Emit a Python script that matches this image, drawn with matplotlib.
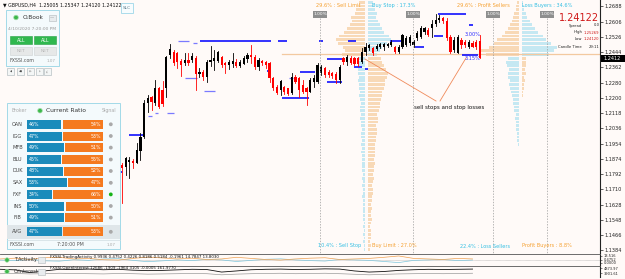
import numpy as np
import matplotlib
matplotlib.use("Agg")
import matplotlib.pyplot as plt
from matplotlib.patches import Rectangle, Circle
import matplotlib.transforms as mtransforms

plt.rcParams['font.family'] = ['DejaVu Sans']

# ---------------- data ----------------
header_text = "\u25BC GBPUSD,H4  1.25005 1.25347 1.24120 1.24122"

candle_open = [1.1840, 1.1829, 1.1856, 1.1861, 1.1851, 1.1915, 1.1990, 1.2171, 1.2204, 1.2171,
               1.2252, 1.2241, 1.2252, 1.2428, 1.2444, 1.2439, 1.2396, 1.2385, 1.2401, 1.2401,
               1.2412, 1.2326, 1.2337, 1.2310, 1.2391, 1.2396, 1.2396, 1.2417, 1.2385, 1.2375,
               1.2380, 1.2391, 1.2369, 1.2380, 1.2407, 1.2428, 1.2417, 1.2364, 1.2396, 1.2391,
               1.2385, 1.2305, 1.2257, 1.2241, 1.2257, 1.2252, 1.2225, 1.2310, 1.2305, 1.2268,
               1.2252, 1.2230, 1.2284, 1.2284, 1.2332, 1.2359, 1.2337, 1.2332, 1.2326, 1.2294,
               1.2412, 1.2391, 1.2412, 1.2412, 1.2412, 1.2391, 1.2444, 1.2465, 1.2465, 1.2460,
               1.2471, 1.2471, 1.2476, 1.2481, 1.2471, 1.2444, 1.2471, 1.2481, 1.2492, 1.2481,
               1.2519, 1.2524, 1.2551, 1.2562, 1.2572, 1.2594, 1.2615, 1.2626, 1.2610, 1.2524,
               1.2455, 1.2439, 1.2508, 1.2498, 1.2471, 1.2492, 1.2498, 1.25005]
candle_high = [1.1851, 1.1883, 1.1883, 1.1872, 1.1958, 1.2011, 1.2187, 1.2214, 1.2209, 1.2294,
               1.2257, 1.2289, 1.2423, 1.2487, 1.2455, 1.2444, 1.2407, 1.2439, 1.2439, 1.2439,
               1.2423, 1.2359, 1.2348, 1.2401, 1.2476, 1.2455, 1.2449, 1.2423, 1.2391, 1.2401,
               1.2439, 1.2407, 1.2401, 1.2423, 1.2439, 1.2481, 1.2428, 1.2412, 1.2401, 1.2396,
               1.2391, 1.2310, 1.2268, 1.2294, 1.2262, 1.2252, 1.2332, 1.2321, 1.2310, 1.2294,
               1.2257, 1.2305, 1.2321, 1.2385, 1.2375, 1.2364, 1.2348, 1.2337, 1.2337, 1.2375,
               1.2417, 1.2428, 1.2423, 1.2417, 1.2417, 1.2465, 1.2492, 1.2487, 1.2471, 1.2487,
               1.2492, 1.2492, 1.2492, 1.2508, 1.2476, 1.2481, 1.2540, 1.2530, 1.2535, 1.2508,
               1.2556, 1.2583, 1.2578, 1.2572, 1.2615, 1.2647, 1.2642, 1.2631, 1.2626, 1.2535,
               1.2524, 1.2535, 1.2519, 1.2508, 1.2508, 1.2503, 1.2508, 1.25347]
candle_low = [1.1637, 1.1787, 1.1771, 1.1824, 1.1851, 1.1867, 1.1984, 1.2123, 1.2134, 1.2161,
              1.2145, 1.2155, 1.2204, 1.2412, 1.2375, 1.2359, 1.2316, 1.2375, 1.2375, 1.2391,
              1.2241, 1.2310, 1.2294, 1.2284, 1.2369, 1.2348, 1.2391, 1.2364, 1.2332, 1.2353,
              1.2364, 1.2364, 1.2364, 1.2380, 1.2391, 1.2385, 1.2353, 1.2348, 1.2375, 1.2359,
              1.2284, 1.2241, 1.2220, 1.2214, 1.2220, 1.2214, 1.2220, 1.2278, 1.2204, 1.2225,
              1.2161, 1.2230, 1.2257, 1.2278, 1.2321, 1.2310, 1.2310, 1.2305, 1.2278, 1.2278,
              1.2380, 1.2375, 1.2380, 1.2375, 1.2369, 1.2385, 1.2428, 1.2455, 1.2428, 1.2455,
              1.2465, 1.2455, 1.2471, 1.2476, 1.2439, 1.2439, 1.2465, 1.2476, 1.2481, 1.2471,
              1.2508, 1.2519, 1.2540, 1.2530, 1.2524, 1.2583, 1.2604, 1.2599, 1.2508, 1.2439,
              1.2444, 1.2439, 1.2465, 1.2471, 1.2465, 1.2471, 1.2460, 1.24120]
candle_close = [1.1824, 1.1877, 1.1867, 1.1851, 1.1920, 1.1990, 1.2171, 1.2198, 1.2177, 1.2252,
                1.2150, 1.2166, 1.2417, 1.2460, 1.2385, 1.2391, 1.2375, 1.2401, 1.2385, 1.2423,
                1.2326, 1.2337, 1.2310, 1.2391, 1.2401, 1.2412, 1.2444, 1.2375, 1.2375, 1.2391,
                1.2396, 1.2369, 1.2391, 1.2412, 1.2428, 1.2417, 1.2364, 1.2401, 1.2385, 1.2375,
                1.2305, 1.2252, 1.2225, 1.2289, 1.2230, 1.2220, 1.2310, 1.2284, 1.2241, 1.2230,
                1.2230, 1.2294, 1.2305, 1.2375, 1.2364, 1.2321, 1.2321, 1.2316, 1.2294, 1.2364,
                1.2391, 1.2417, 1.2385, 1.2380, 1.2380, 1.2444, 1.2471, 1.2481, 1.2439, 1.2476,
                1.2487, 1.2487, 1.2487, 1.2498, 1.2444, 1.2471, 1.2535, 1.2519, 1.2524, 1.2498,
                1.2546, 1.2572, 1.2572, 1.2535, 1.2594, 1.2615, 1.2626, 1.2610, 1.2519, 1.2444,
                1.2508, 1.2524, 1.2481, 1.2481, 1.2498, 1.2471, 1.2471, 1.24122]

price_ticks = [1.2688, 1.2606, 1.2526, 1.2444, 1.2362, 1.2280, 1.2200, 1.2118, 1.2036,
               1.1954, 1.1874, 1.1792, 1.1710, 1.1628, 1.1548, 1.1466, 1.1384]
last_price = 1.24122

# blue stop-loss level segments: price, first bar, last bar, heavy?
stop_price = [1.2503, 1.2492, 1.2503, 1.2503, 1.2305, 1.2236, 1.2343, 1.2198, 1.2305, 1.2118,
              1.2118, 1.2102, 1.2000, 1.1803, 1.2503, 1.2503, 1.2503, 1.2471, 1.2530, 1.2588,
              1.2428, 1.2407, 1.2364, 1.2353, 1.2337, 1.2284, 1.2647]
stop_start = [15.2, 19.2, 21.1, 42.3, 17.1, 22.2, 39.3, 43.4, 45.3, 8.9,
              12.2, 7.0, 1.9, -0.8, 53.4, 61.2, 72.6, 79.4, 84.6, 94.0,
              92.1, 55.6, 62.9, 65.9, 48.2, 55.6, 85.6]
stop_end = [18.2, 20.3, 40.4, 44.7, 20.3, 25.2, 40.4, 50.7, 46.3, 9.8,
            14.1, 8.1, 5.7, 0.0, 54.5, 63.4, 75.9, 81.8, 87.0, 95.1,
            96.5, 59.6, 65.0, 66.7, 52.3, 59.6, 93.2]
stop_heavy = [0, 0, 1, 1, 0, 0, 1, 1, 0, 0,
              0, 0, 1, 1, 1, 1, 1, 1, 1, 1,
              1, 1, 1, 1, 1, 1, 1]

# order book / position book histograms (percent per 0.002 price bin, from 1.138 upward)
hist_bottom = 1.138
hist_step = 0.002
ob_left = [0.03, 0.02, 0.04, 0.03, 0.04, 0.03, 0.05, 0.03, 0.04, 0.04,
           0.04, 0.05, 0.04, 0.05, 0.06, 0.04, 0.05, 0.06, 0.05, 0.06,
           0.05, 0.07, 0.06, 0.06, 0.07, 0.06, 0.08, 0.07, 0.08, 0.07,
           0.08, 0.09, 0.07, 0.09, 0.08, 0.10, 0.09, 0.10, 0.11, 0.09,
           0.11, 0.12, 0.10, 0.13, 0.12, 0.14, 0.13, 0.15, 0.14, 0.16, 0.18, 0.15,
           0.50, 0.42, 0.48, 0.58, 0.62, 0.55, 0.45, 0.38, 0.32, 0.28, 0.30, 0.22, 0.20, 0.16, 0.12]
ob_right = [0.05, 0.06, 0.05, 0.06, 0.07, 0.06, 0.05, 0.07, 0.08, 0.06,
            0.07, 0.08, 0.07, 0.09, 0.08, 0.10, 0.11, 0.09, 0.10, 0.12,
            0.11, 0.13, 0.12, 0.14, 0.12, 0.15, 0.14, 0.16, 0.15, 0.17,
            0.17, 0.19, 0.20, 0.18, 0.21, 0.22, 0.20, 0.24, 0.26, 0.25,
            0.28, 0.31, 0.30, 0.34, 0.37, 0.36, 0.40, 0.43, 0.38, 0.34, 0.31, 0.28,
            0.20, 0.25, 0.30, 0.40, 0.50, 0.45, 0.35, 0.30, 0.25, 0.22, 0.18, 0.20, 0.15, 0.12, 0.10]
pb_left = [0.00, 0.00, 0.00, 0.00, 0.00, 0.00, 0.00, 0.00, 0.00, 0.00,
           0.00, 0.00, 0.00, 0.00, 0.00, 0.00, 0.00, 0.00, 0.00, 0.00,
           0.00, 0.00, 0.00, 0.00, 0.00, 0.00, 0.00, 0.00, 0.03, 0.04,
           0.05, 0.06, 0.08, 0.09, 0.10, 0.12, 0.11, 0.15, 0.18, 0.20,
           0.22, 0.25, 0.28, 0.30, 0.35, 0.32, 0.38, 0.40, 0.35, 0.42, 0.45, 0.40,
           1.20, 1.40, 1.10, 0.90, 0.80, 0.60, 0.50, 0.40, 0.30, 0.25, 0.20, 0.15, 0.10, 0.08, 0.05]
pb_right = [0.00, 0.00, 0.00, 0.00, 0.00, 0.00, 0.00, 0.00, 0.00, 0.00,
            0.00, 0.00, 0.00, 0.00, 0.00, 0.00, 0.00, 0.00, 0.00, 0.00,
            0.00, 0.00, 0.00, 0.00, 0.00, 0.00, 0.00, 0.00, 0.00, 0.00,
            0.00, 0.00, 0.00, 0.00, 0.00, 0.00, 0.00, 0.00, 0.00, 0.00,
            0.03, 0.05, 0.06, 0.08, 0.10, 0.12, 0.11, 0.15, 0.13, 0.18, 0.16, 0.15,
            1.00, 1.20, 1.30, 1.10, 0.90, 0.80, 0.60, 0.50, 0.40, 0.30, 0.20, 0.15, 0.10, 0.08, 0.05]

ob_top_labels = ["29.6% : Sell Limit", "Buy Stop : 17.3%"]
ob_bottom_labels = ["10.4% : Sell Stop", "Buy Limit : 27.0%"]
pb_top_labels = ["29.6% : Profit Sellers", "Loss Buyers : 34.6%"]
pb_bottom_labels = ["22.4% : Loss Sellers", "Profit Buyers : 8.8%"]

brokers = ["OAN", "IGG", "MFB", "BLU", "DUK", "SAX", "FXF", "INS", "FIB"]
long_pct = [46, 47, 49, 45, 48, 53, 34, 50, 49]
short_pct = [54, 53, 51, 55, 52, 47, 66, 50, 51]
signal_active = [0, 0, 0, 0, 0, 0, 1, 0, 0]
avg_long, avg_short = 47, 53

info_labels = ["Spread", "High", "Low", "Candle Time"]
info_values = ["0.0", "1.25269", "1.24120", "29:11"]
info_value_red = [0, 1, 1, 0]

# sub-window indicators (sampled every 4 bars from bar -33)
ta_orange = [0.55, 0.62, 0.50, 0.66, 0.70, 0.55, 0.60, 0.48, 0.45, 0.60, 0.72, 0.64, 0.55,
             0.62, 0.50, 0.55, 0.70, 0.60, 0.50, 0.45, 0.55, 0.62, 0.66, 0.50, 0.55, 0.60,
             0.70, 0.82, 0.60, 0.55, 0.50, 0.60, 0.55]
ta_blue = [0.45, 0.40, 0.52, 0.38, 0.35, 0.48, 0.42, 0.55, 0.58, 0.42, 0.30, 0.38, 0.46,
           0.40, 0.52, 0.46, 0.32, 0.42, 0.52, 0.56, 0.46, 0.40, 0.36, 0.50, 0.46, 0.42,
           0.32, 0.22, 0.42, 0.46, 0.50, 0.40, 0.45]
oi_black = [0.70, 0.65, 0.40, 0.55, 0.70, 0.68, 0.72, 0.66, 0.70, 0.62, 0.58, 0.60, 0.65,
            0.70, 0.68, 0.45, 0.55, 0.66, 0.70, 0.72, 0.68, 0.70, 0.74, 0.72, 0.55, 0.45,
            0.50, 0.60, 0.66, 0.70, 0.68, 0.70, 0.72]
oi_gray = [0.30, 0.32, 0.28, 0.30, 0.34, 0.32, 0.30, 0.28, 0.32, 0.30, 0.26, 0.28, 0.30,
           0.32, 0.30, 0.20, 0.26, 0.30, 0.32, 0.34, 0.30, 0.32, 0.34, 0.30, 0.25, 0.20,
           0.24, 0.28, 0.30, 0.32, 0.30, 0.32, 0.34]

# ---------------- layout constants ----------------
W, H = 625, 279
BG = '#fffaf8'
BAR_PX = 3.69          # pixel distance between bars
BAR0_PX = 122.0        # pixel x of the first visible bar
PLOT_R = 600.0         # right edge of plotting area
MAIN_BOTTOM = 253.0
Y_TOP, Y_BOT = 1.2722, 1.1370
OB_CENTER, OB_SCALE = 366.5, 46.5
PB_CENTER, PB_SCALE = 520.0, 27.0
ORANGE_TXT = '#f5a030'
CYAN_TXT = '#35bfe3'
HIST_ORANGE = '#f8d6b0'
HIST_BLUE = '#bfe6f2'

fig = plt.figure(figsize=(W / 100, H / 100), dpi=100)
fig.patch.set_facecolor(BG)

x_lo = -BAR0_PX / BAR_PX
x_hi = (PLOT_R - BAR0_PX) / BAR_PX

ax = fig.add_axes([0, (H - MAIN_BOTTOM) / H, PLOT_R / W, MAIN_BOTTOM / H])
ax.set_facecolor(BG)
ax.set_xlim(x_lo, x_hi)
ax.set_ylim(Y_BOT, Y_TOP)
for s in ['top', 'left', 'bottom']:
    ax.spines[s].set_visible(False)
ax.spines['right'].set_color('#222222')
ax.spines['right'].set_linewidth(0.8)
ax.yaxis.tick_right()
ax.set_yticks(price_ticks)
ax.set_yticklabels([f"{v:.4f}" for v in price_ticks])
ax.tick_params(axis='y', labelsize=3.6, length=2, width=0.5, pad=1.5, colors='#222222')
ax.set_xticks([])

# overlay axes in pixel coordinates
ov = fig.add_axes([0, 0, 1, 1], zorder=10)
ov.set_xlim(0, W)
ov.set_ylim(H, 0)
ov.axis('off')
ov.patch.set_alpha(0)

blend = mtransforms.blended_transform_factory(ov.transData, ax.transData)

# ---- histograms ----
def draw_hist(vals, center, scale, direction, split_idx, col_low, col_high):
    for k, v in enumerate(vals):
        if v <= 0:
            continue
        y0 = hist_bottom + k * hist_step
        col = col_low if k < split_idx else col_high
        w = v * scale
        x0 = center - w if direction < 0 else center
        ax.add_patch(Rectangle((x0, y0 + hist_step * 0.12), w, hist_step * 0.76,
                               transform=blend, facecolor=col, edgecolor='none',
                               alpha=0.9, zorder=1))

split = 52
draw_hist(ob_left, OB_CENTER - 1.5, OB_SCALE, -1, split, HIST_BLUE, HIST_ORANGE)
draw_hist(ob_right, OB_CENTER + 1.5, OB_SCALE, 1, split, HIST_ORANGE, HIST_BLUE)
draw_hist(pb_left, PB_CENTER - 1.5, PB_SCALE, -1, split, HIST_BLUE, HIST_ORANGE)
draw_hist(pb_right, PB_CENTER + 1.5, PB_SCALE, 1, split, HIST_ORANGE, HIST_BLUE)

# current order book price line
ax.plot([282, PLOT_R], [1.2433, 1.2433], transform=blend, color='#f3c9a0', lw=0.9, zorder=1.5)

# dashed 1% lines
for xp in [OB_CENTER - OB_SCALE, OB_CENTER + OB_SCALE, PB_CENTER - PB_SCALE, PB_CENTER + PB_SCALE]:
    ov.plot([xp, xp], [18, MAIN_BOTTOM], color='#9a9a9a', lw=0.5, ls=(0, (2, 2)), zorder=1)
    ov.add_patch(Rectangle((xp - 7, 10.5), 14, 7, facecolor='#8e8e8e', edgecolor='none'))
    ov.text(xp, 14.2, "1.00%", fontsize=3.2, color='white', ha='center', va='center')

# ---- stop level segments ----
for p, s0, s1, hv in zip(stop_price, stop_start, stop_end, stop_heavy):
    ax.plot([s0, s1], [p, p], color='#1010ff' if hv else '#7a7aff', lw=1.2 if hv else 0.9,
            solid_capstyle='butt', zorder=2)

# ---- candles ----
for i, (o, h, l, c) in enumerate(zip(candle_open, candle_high, candle_low, candle_close)):
    col = '#000000' if c >= o else '#ff0000'
    ax.plot([i, i], [l, h], color=col, lw=0.6, zorder=3)
    ax.add_patch(Rectangle((i - 0.3, min(o, c)), 0.6, max(abs(c - o), 0.0003),
                           facecolor=col, edgecolor='none', zorder=3))

# current price box on axis
ov.add_patch(Rectangle((601, 55), 24, 6.5, facecolor='black', edgecolor='none', zorder=11))
ov.text(603, 58.3, f"{last_price:.4f}", fontsize=3.6, color='white', va='center', ha='left', zorder=12)

# ---- labels of books ----
ov.text(360, 5.5, ob_top_labels[0], fontsize=3.6, color=ORANGE_TXT, ha='right', va='center')
ov.text(372, 5.5, ob_top_labels[1], fontsize=3.6, color=CYAN_TXT, ha='left', va='center')
ov.text(510, 5.5, pb_top_labels[0], fontsize=3.6, color=ORANGE_TXT, ha='right', va='center')
ov.text(522, 5.5, pb_top_labels[1], fontsize=3.6, color=CYAN_TXT, ha='left', va='center')
ov.text(361, 246, ob_bottom_labels[0], fontsize=3.6, color=CYAN_TXT, ha='right', va='center')
ov.text(372, 246, ob_bottom_labels[1], fontsize=3.6, color=ORANGE_TXT, ha='left', va='center')
ov.text(510, 246, pb_bottom_labels[0], fontsize=3.6, color=CYAN_TXT, ha='right', va='center')
ov.text(522, 246, pb_bottom_labels[1], fontsize=3.6, color=ORANGE_TXT, ha='left', va='center')

ov.text(465, 35, "3.00%", fontsize=3.6, color='#2a2aff', ha='left', va='center')
ov.text(465, 58, "3.15%", fontsize=3.6, color='#2a2aff', ha='left', va='center')

# annotation
ov.plot([365, 436], [59, 101], color='#f08a5a', lw=0.6)
ov.plot([440, 466], [101, 58], color='#f08a5a', lw=0.6)
ov.text(414, 107, "sell stops and stop losses", fontsize=4, color='#111111', ha='left', va='center')

# ---- info block ----
ov.text(599, 18, "1.24122", fontsize=7.0, color='#d01818', ha='right', va='center')
for k, (lab, val, red) in enumerate(zip(info_labels, info_values, info_value_red)):
    yy = 25.5 + 7 * k
    ov.text(582, yy, lab, fontsize=2.7, color='#222222', ha='right', va='center')
    ov.text(599.5, yy, val, fontsize=2.7, color='#d01818' if red else '#222222',
            ha='right', va='center')

# ---- header ----
ov.text(3, 5, header_text, fontsize=3.4, color='#111111', ha='left', va='center')
ov.add_patch(Rectangle((121, 3), 12, 10, facecolor='#f7fcfe', edgecolor='#9fd7e8', lw=0.6))
ov.text(127, 8, "SLC", fontsize=3.2, color='#5a7a8a', ha='center', va='center')

# ---- O.Book panel ----
PANEL_BG = '#f4fafc'
PANEL_EDGE = '#a3d9e8'
ov.add_patch(Rectangle((6, 10), 53, 56, facecolor=PANEL_BG, edgecolor=PANEL_EDGE, lw=0.7))
ov.add_patch(Circle((16, 17.5), 2.3, facecolor='#3cb84a', edgecolor='#a8dcae', lw=0.5))
ov.text(23, 17.5, "O.Book", fontsize=4.2, color='#333333', ha='left', va='center')
ov.add_patch(Rectangle((48.5, 14.5), 7, 6, facecolor='#e8ecee', edgecolor='#b0b8bc', lw=0.4))
ov.text(52, 17.3, "\u2014", fontsize=3, color='#777777', ha='center', va='center')
ov.text(32.5, 29, "4/10/2020 7:20:00 PM", fontsize=3.2, color='#9a9a9a', ha='center', va='center')
for bx in (10, 34):
    ov.add_patch(Rectangle((bx, 36), 22, 8, facecolor='#2fb84e', edgecolor='#28a044', lw=0.4))
    ov.text(bx + 11, 40, "ALL", fontsize=3.4, color='white', ha='center', va='center')
    ov.add_patch(Rectangle((bx, 47), 22, 7.5, facecolor='#e6e8e8', edgecolor='#cfd3d3', lw=0.4))
    ov.text(bx + 11, 50.8, "NET", fontsize=3.2, color='#b5b5b5', ha='center', va='center')
ov.text(10, 61, "FXSSI.com", fontsize=3.4, color='#555555', ha='left', va='center')
ov.text(56, 61, "1.07", fontsize=3.0, color='#aaaaaa', ha='right', va='center')
for bx, sym in zip([7, 17, 27, 36, 44], ["\u25C0", "\u25C0\u25C0", "\u25B6\u25B6", "\u25B6", "\u25B6|"]):
    ov.add_patch(Rectangle((bx, 68), 7, 7, facecolor='#f4f6f6', edgecolor='#a8b4b8', lw=0.4))
    ov.text(bx + 3.5, 71.5, sym, fontsize=1.8, color='#444444' if bx < 20 else '#bbbbbb',
            ha='center', va='center')

# ---- Current Ratio panel ----
ov.add_patch(Rectangle((7, 103), 113, 146, facecolor=PANEL_BG, edgecolor=PANEL_EDGE, lw=0.7))
ov.text(12, 110.7, "Broker", fontsize=3.4, color='#aaaaaa', ha='left', va='center')
ov.add_patch(Circle((40, 110.7), 2.3, facecolor='#3cb84a', edgecolor='#a8dcae', lw=0.5))
ov.text(46, 110.7, "Current Ratio", fontsize=4.3, color='#333333', ha='left', va='center')
ov.text(116, 110.7, "Signal", fontsize=3.4, color='#aaaaaa', ha='right', va='center')

BAR_L, BAR_W = 27.0, 76.0
BLUE_BAR = '#1a8bbb'
ORANGE_BAR = '#f57a1f'

def ratio_row(yc, name, lp, sp, active):
    ov.text(17.5, yc, name, fontsize=3.6, color='#444444', ha='center', va='center')
    bw = BAR_W * lp / 100.0
    ov.add_patch(Rectangle((BAR_L, yc - 4.5), bw - 0.6, 9, facecolor=BLUE_BAR, edgecolor='none'))
    ov.add_patch(Rectangle((BAR_L + bw + 0.6, yc - 4.5), BAR_W - bw - 0.6, 9,
                           facecolor=ORANGE_BAR, edgecolor='none'))
    ov.text(BAR_L + 2, yc, f"{lp}%", fontsize=3.4, color='white', ha='left', va='center')
    ov.text(BAR_L + BAR_W - 2, yc, f"{sp}%", fontsize=3.4, color='white', ha='right', va='center')
    ov.add_patch(Circle((110.8, yc), 1.9, facecolor='#17b317' if active else '#a9a9a9',
                        edgecolor='none'))

row_y = [124.3, 136.0, 147.6, 159.5, 171.0, 182.8, 194.4, 206.0, 217.6]
for yc, name, lp, sp, act in zip(row_y, brokers, long_pct, short_pct, signal_active):
    ratio_row(yc, name, lp, sp, act)
ov.add_patch(Rectangle((7.4, 225), 112.2, 14, facecolor='#dfe6e9', edgecolor='none'))
ratio_row(231.8, "AVG", avg_long, avg_short, 0)
ov.plot([7.4, 119.6], [240, 240], color='#cfdde2', lw=0.5)
ov.text(10, 244.5, "FXSSI.com", fontsize=3.4, color='#555555', ha='left', va='center')
ov.text(70, 244.5, "7:20:00 PM", fontsize=3.4, color='#555555', ha='center', va='center')
ov.text(116, 244.5, "1.07", fontsize=3.0, color='#aaaaaa', ha='right', va='center')

# ---- sub windows ----
xs_ind = np.arange(-33, 98, 4)

s1 = fig.add_axes([0, 14 / H, PLOT_R / W, 11 / H])
s2 = fig.add_axes([0, 2 / H, PLOT_R / W, 11 / H])
for s in (s1, s2):
    s.set_facecolor(BG)
    s.set_xlim(x_lo, x_hi)
    s.set_xticks([])
    for sp in ['left', 'bottom']:
        s.spines[sp].set_visible(False)
    s.spines['top'].set_color('#555555')
    s.spines['top'].set_linewidth(0.6)
    s.spines['right'].set_color('#222222')
    s.spines['right'].set_linewidth(0.8)
    s.yaxis.tick_right()
    s.tick_params(axis='y', labelsize=2.6, length=1.5, width=0.4, pad=1, colors='#222222')

s1.set_ylim(0, 1)
s1.axhline(0.5, color='#9a9a9a', lw=0.4, ls=(0, (1, 1)))
s1.plot(xs_ind, ta_blue, color='#7fc6dc', lw=0.5)
s1.plot(xs_ind, ta_orange, color='#f0a050', lw=0.5)
s1.set_yticks([0.85, 0.5, 0.2])
s1.set_yticklabels(["13.516", "0.4752", "0.0000"])

s2.set_ylim(0, 1)
s2.plot(xs_ind, oi_gray, color='#9a9a9a', lw=0.5)
s2.plot(xs_ind, oi_black, color='#111111', lw=0.6)
s2.set_yticks([0.8, 0.35])
s2.set_yticklabels(["4873.97", "3901.61"])

for yc, name in [(260, "T.Activity"), (271.5, "O.Interest")]:
    ov.add_patch(Circle((7, yc), 2.2, facecolor='#3cb84a', edgecolor='#a8dcae', lw=0.5))
    ov.text(14, yc, name, fontsize=3.6, color='#333333', ha='left', va='center')
    ov.add_patch(Rectangle((38, yc - 3), 7, 6, facecolor='#e8ecee', edgecolor='#b0b8bc', lw=0.4))
ov.text(50, 256.8, "FXSSI.TradingActivity 0.9936 0.4752 0.4226 0.8186 0.5184 -0.1961 14.7847 13.8030",
        fontsize=2.9, color='#111111', ha='left', va='center')
ov.text(50, 268, "FXSSI.OpenInterest 12686 -1909 -1964 3105 -0.0005 161.9770",
        fontsize=2.9, color='#111111', ha='left', va='center')

fig.savefig("out.png", dpi=100, facecolor=BG)
